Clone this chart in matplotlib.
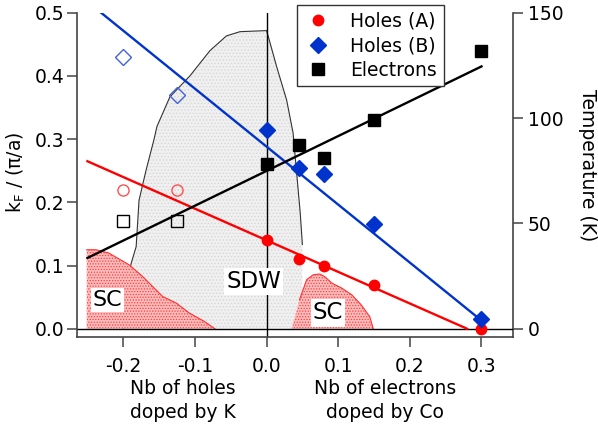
import numpy as np
import matplotlib
matplotlib.use("Agg")
import matplotlib.pyplot as plt

plt.rcParams['font.family'] = ['DejaVu Sans']
plt.rcParams['axes.unicode_minus'] = False
plt.rcParams['hatch.linewidth'] = 0.6

# ---------------- data ----------------
dop_x = [0.0, 0.045, 0.08, 0.15, 0.3]
dop_x_K = [-0.2, -0.125]

holesA_y = [0.14, 0.11, 0.10, 0.07, 0.0]
holesA_K_y = [0.22, 0.22]
holesB_y = [0.315, 0.255, 0.245, 0.165, 0.015]
holesB_K_y = [0.43, 0.37]
elec_y = [0.26, 0.29, 0.27, 0.33, 0.44]
elec_K_y = [0.17, 0.17]

fitA_x = [-0.25, 0.28]
fitA_y = [0.265, 0.0]
fitB_x = [-0.231, 0.3]
fitB_y = [0.5, 0.013]
fitE_x = [-0.25, 0.3]
fitE_y = [0.112, 0.415]

# phase diagram (temperature, K)
sdw_x = [-0.2, -0.195, -0.189, -0.182, -0.178, -0.168, -0.157, -0.153, -0.135,
         -0.107, -0.079, -0.056, -0.037, 0.0, 0.003, 0.014, 0.028, 0.037,
         0.042, 0.047, 0.05, 0.05]
sdw_T = [0, 20, 31, 39, 61, 75.5, 90, 96, 110, 120, 132, 139, 141, 141.5,
         138, 124.5, 108.6, 93, 74, 55, 40, 0]

sc_left_x = [-0.251, -0.251, -0.238, -0.22, -0.192, -0.173, -0.145, -0.126,
             -0.108, -0.087, -0.072]
sc_left_T = [0, 37.5, 37.5, 35.9, 30.4, 24.8, 15.3, 12.2, 7.5, 3.5, 0]

sc_right_x = [0.035, 0.046, 0.056, 0.065, 0.074, 0.081, 0.091, 0.105, 0.119,
              0.132, 0.144, 0.149]
sc_right_T = [0, 13.8, 23.3, 25.6, 26, 24.8, 21.7, 19.3, 16.1, 11.4, 5.8, 0]

xticks = [-0.2, -0.1, 0.0, 0.1, 0.2, 0.3]
yticks = [0.0, 0.1, 0.2, 0.3, 0.4, 0.5]
Tticks = [0, 50, 100, 150]

# ---------------- figure ----------------
W, H = 598, 428
fig = plt.figure(figsize=(W / 100, H / 100), dpi=100)
ax_l, ax_r, ax_b, ax_t = 76.7, 513, 337.3, 12.7
ax = fig.add_axes([ax_l / W, 1 - ax_b / H, (ax_r - ax_l) / W, (ax_b - ax_t) / H])
ax2 = ax.twinx()
ax.set_zorder(ax2.get_zorder() + 1)
ax.patch.set_visible(False)

ylo = -0.0135
ax.set_xlim(-0.265, 0.344)
ax.set_ylim(ylo, 0.5)
ax2.set_ylim(ylo * 300, 150)

red = '#ff0000'
blue = '#0033cc'
spc = '#444444'
fs = 13.5

# phase regions on temperature axis (drawn underneath)
ax2.fill(sdw_x, sdw_T, facecolor='#f0f0f0', edgecolor='#d6d6d6', lw=0, zorder=1,
         hatch='.....')
ax2.plot(sdw_x[:-1], sdw_T[:-1], color='#333333', lw=0.8, zorder=2)
for xs, Ts in ((sc_left_x, sc_left_T), (sc_right_x, sc_right_T)):
    ax2.fill(xs, Ts, facecolor='#ffbdbd', edgecolor='#ff3c3c', lw=0, zorder=3,
             hatch='......')
    ax2.plot(xs[1:], Ts[1:], color='#ff3030', lw=0.8, zorder=4)

ax2.axvline(0, color='black', lw=1.0, zorder=5)

tb = dict(facecolor='white', edgecolor='none', pad=1.5)
ax2.text(-0.018, 22.4, 'SDW', fontsize=16.5, ha='center', va='center', bbox=tb, zorder=6)
ax2.text(-0.222, 13.8, 'SC', fontsize=16, ha='center', va='center', bbox=tb, zorder=6)
ax2.text(0.086, 7.5, 'SC', fontsize=16.5, ha='center', va='center', bbox=tb, zorder=6)

# data on kF axis
ax.axhline(0, color='black', lw=1.0, zorder=2)
ax.plot(fitA_x, fitA_y, color=red, lw=1.7, zorder=3)
ax.plot(fitB_x, fitB_y, color=blue, lw=1.7, zorder=3)
ax.plot(fitE_x, fitE_y, color='black', lw=1.7, zorder=3)

ax.plot(dop_x_K, holesA_K_y, 'o', ms=8, mfc='none', mec='#ff5050', mew=1.0, zorder=4)
ax.plot(dop_x_K, holesB_K_y, 'D', ms=8, mfc='none', mec='#3f62dd', mew=1.0, zorder=4)
ax.plot(dop_x_K, elec_K_y, 's', ms=8, mfc='none', mec='black', mew=1.0, zorder=4)

hA, = ax.plot(dop_x, holesA_y, 'o', ms=7.5, color=red, zorder=5, label='Holes (A)')
hB, = ax.plot(dop_x, holesB_y, 'D', ms=8.5, color=blue, zorder=5, label='Holes (B)')
hE, = ax.plot(dop_x, elec_y, 's', ms=8.5, color='black', zorder=5, label='Electrons')

# axes styling
for a in (ax, ax2):
    a.spines['top'].set_visible(False)
ax.spines['right'].set_visible(False)
ax2.spines['left'].set_visible(False)
ax2.spines['bottom'].set_visible(False)
for s in ('left', 'bottom'):
    ax.spines[s].set_color(spc)
    ax.spines[s].set_linewidth(1.2)
ax2.spines['right'].set_color(spc)
ax2.spines['right'].set_linewidth(1.2)

ax.set_xticks(xticks)
ax.set_xticklabels([f'{v:.1f}' for v in xticks])
ax.set_yticks(yticks)
ax.set_yticklabels([f'{v:.1f}' for v in yticks])
ax2.set_yticks(Tticks)
ax2.set_yticklabels([str(v) for v in Tticks])

ax.tick_params(axis='x', direction='out', length=7, width=1.1, color=spc,
               labelsize=fs, pad=7)
ax.tick_params(axis='y', direction='out', length=7, width=1.1, color=spc,
               labelsize=fs, pad=2)
ax2.tick_params(axis='y', direction='out', length=7, width=1.1, color=spc,
                labelsize=fs, pad=3.5)

axh = ax_b - ax_t
axw = ax_r - ax_l
ax.text((16 - ax_l) / axw, (ax_b - 172) / axh, r'k$_\mathregular{F}$ / (π/a)',
        transform=ax.transAxes, rotation=90, ha='center', va='center', fontsize=fs)
ax.text((588 - ax_l) / axw, (ax_b - 165) / axh, 'Temperature (K)',
        transform=ax.transAxes, rotation=-90, ha='center', va='center', fontsize=fs)

xt = ax.get_xaxis_transform()
ax.text(-0.117, (ax_b - 400.5) / axh, 'Nb of holes\ndoped by K', transform=xt,
        ha='center', va='center', fontsize=fs, linespacing=1.3)
ax.text(0.165, (ax_b - 400.5) / axh, 'Nb of electrons\ndoped by Co', transform=xt,
        ha='center', va='center', fontsize=fs, linespacing=1.3)

leg = ax.legend(handles=[hA, hB, hE], loc='upper left',
                bbox_to_anchor=(297 / W, 1 - 5 / H), bbox_transform=fig.transFigure,
                borderaxespad=0, fontsize=fs, frameon=True, fancybox=False,
                framealpha=1, edgecolor='#333333', handlelength=1.5,
                handletextpad=1.0, borderpad=0.35, labelspacing=0.3)
leg.get_frame().set_linewidth(1.0)
leg.set_zorder(10)

fig.savefig('out.png', dpi=100)
